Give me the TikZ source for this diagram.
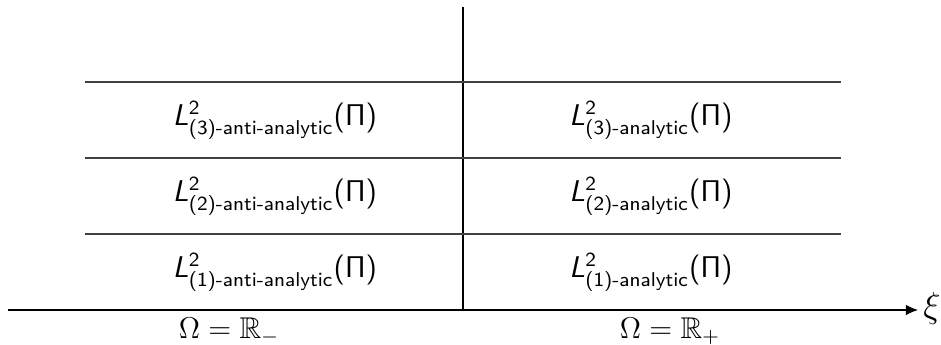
\documentclass[tikz,border=0pt]{standalone}
\usepackage{amsmath}
\usepackage{amssymb}
\usetikzlibrary{arrows.meta}
\DeclareMathAlphabet{\mathsfit}{OT1}{cmss}{m}{sl}
\newcommand{\Lspc}[2]{$\mathsfit{L}^{\textsf{2}}_{\textsf{(#1)-#2}}\textsf{(}\mathsf{\Pi}\textsf{)}$}

\begin{document}
\begin{tikzpicture}[
  x=0.4pt, y=-0.4pt,
  cell/.style={font=\large, inner sep=0pt},
  grid/.style={black!75, line width=0.5pt},
  axis/.style={-{Latex[length=1.7mm, width=1.5mm]}, line width=0.5pt}
]
  \useasboundingbox (0,0) rectangle (941,345);

  % axes
  \coordinate (top) at (463,7);
  \coordinate (bot) at (463,310);
  \coordinate (xl) at (8,310);
  \coordinate (xr) at (918,310);
  \draw[line width=0.5pt] (top) -- (bot);
  \draw[axis] (xl) -- (xr);
  \node[font=\Large] (xi) at (932,309) {$\xi$};

  % levels
  \foreach \y/\n in {82/a,158/b,234/c}{
    \coordinate (l\n) at (85,\y);
    \coordinate (r\n) at (841,\y);
    \draw[grid] (l\n) -- (r\n);
  }

  % spaces
  \node[cell] (am3) at (275,120) {\Lspc{3}{anti-analytic}};
  \node[cell] (am2) at (275,196) {\Lspc{2}{anti-analytic}};
  \node[cell] (am1) at (275,272) {\Lspc{1}{anti-analytic}};
  \node[cell] (an3) at (651,120) {\Lspc{3}{analytic}};
  \node[cell] (an2) at (651,196) {\Lspc{2}{analytic}};
  \node[cell] (an1) at (651,272) {\Lspc{1}{analytic}};

  % domains
  \node[font=\large] (om) at (229,331) {$\Omega=\mathbb{R}_-$};
  \node[font=\large] (op) at (670,331) {$\Omega=\mathbb{R}_+$};
\end{tikzpicture}
\end{document}
